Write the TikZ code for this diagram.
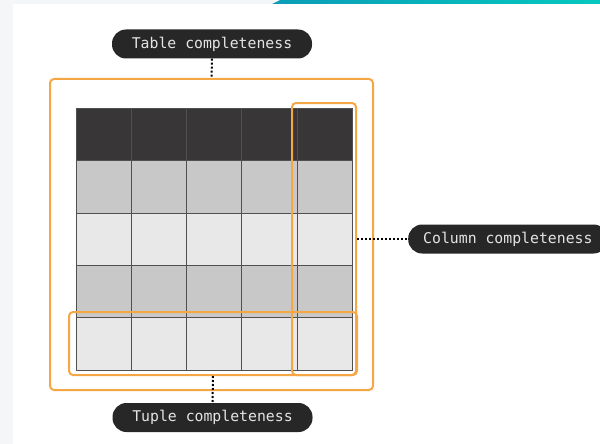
\documentclass[tikz,border=0pt]{standalone}
\usepackage{fontspec}
\setmonofont{DejaVu Sans Mono}
\definecolor{cellDark}{HTML}{383636}
\definecolor{cellMid}{HTML}{C8C8C8}
\definecolor{cellLight}{HTML}{E8E8E8}
\definecolor{gridGray}{HTML}{505050}
\definecolor{frameOrange}{HTML}{F4A744}
\definecolor{pillBg}{HTML}{272727}
\definecolor{pillTxt}{HTML}{E4E4E4}
\definecolor{pageGray}{HTML}{F5F6F8}
\definecolor{tealA}{HTML}{0A9DB8}
\definecolor{tealB}{HTML}{06C8BE}
\tikzset{
  pill/.style={fill=pillBg, text=pillTxt, rounded corners=14pt, inner xsep=15pt,
    minimum height=29pt, font=\fontsize{14.8}{16}\selectfont\ttfamily},
  frame/.style={draw=frameOrange, line width=2pt, rounded corners=4pt, inner sep=0pt},
  leader/.style={draw=black, line width=2pt, dash pattern=on 2pt off 2pt},
}

\begin{document}
\begin{tikzpicture}[x=1pt,y=-1pt]
    \useasboundingbox (0,0) rectangle (600,444);
    % page background
    \fill[white] (0,0) rectangle (600,444);
    \fill[pageGray] (0,0) rectangle (13,444);
    \fill[pageGray] (0,0) rectangle (276,4);
    \shade[left color=tealA, right color=tealB] (272,4) -- (280,0) -- (600,0) -- (600,4) -- cycle;
    % table cells
    \foreach \r/\c in {0/cellDark,1/cellMid,2/cellLight,3/cellMid,4/cellLight}
      \foreach \k in {0,...,4}
        \draw[gridGray, fill=\c] (76+55.2*\k,108+52.4*\r) rectangle ++(55.2,52.4);
    % frames
    \node[frame, minimum width=323pt, minimum height=311pt] (tableFrame) at (211.5,234.5) {};
    \node[frame, minimum width=64pt, minimum height=272pt] (colFrame) at (324,239) {};
    \node[frame, minimum width=288pt, minimum height=63pt] (tupleFrame) at (213,343.5) {};
    % labels
    \node[pill, minimum width=200pt] (tablePill) at (212,44) {Table completeness};
    \node[pill, minimum width=200pt] (tuplePill) at (212.5,417.5) {Tuple completeness};
    \node[pill, anchor=west] (columnPill) at (408,239) {Column completeness};
    % leaders
    \draw[leader] (tablePill.south) -- (tableFrame.north);
    \draw[leader] (tupleFrame.south) -- (tuplePill.north);
    \draw[leader] (colFrame.east) -- (columnPill.west);
\end{tikzpicture}
\end{document}
